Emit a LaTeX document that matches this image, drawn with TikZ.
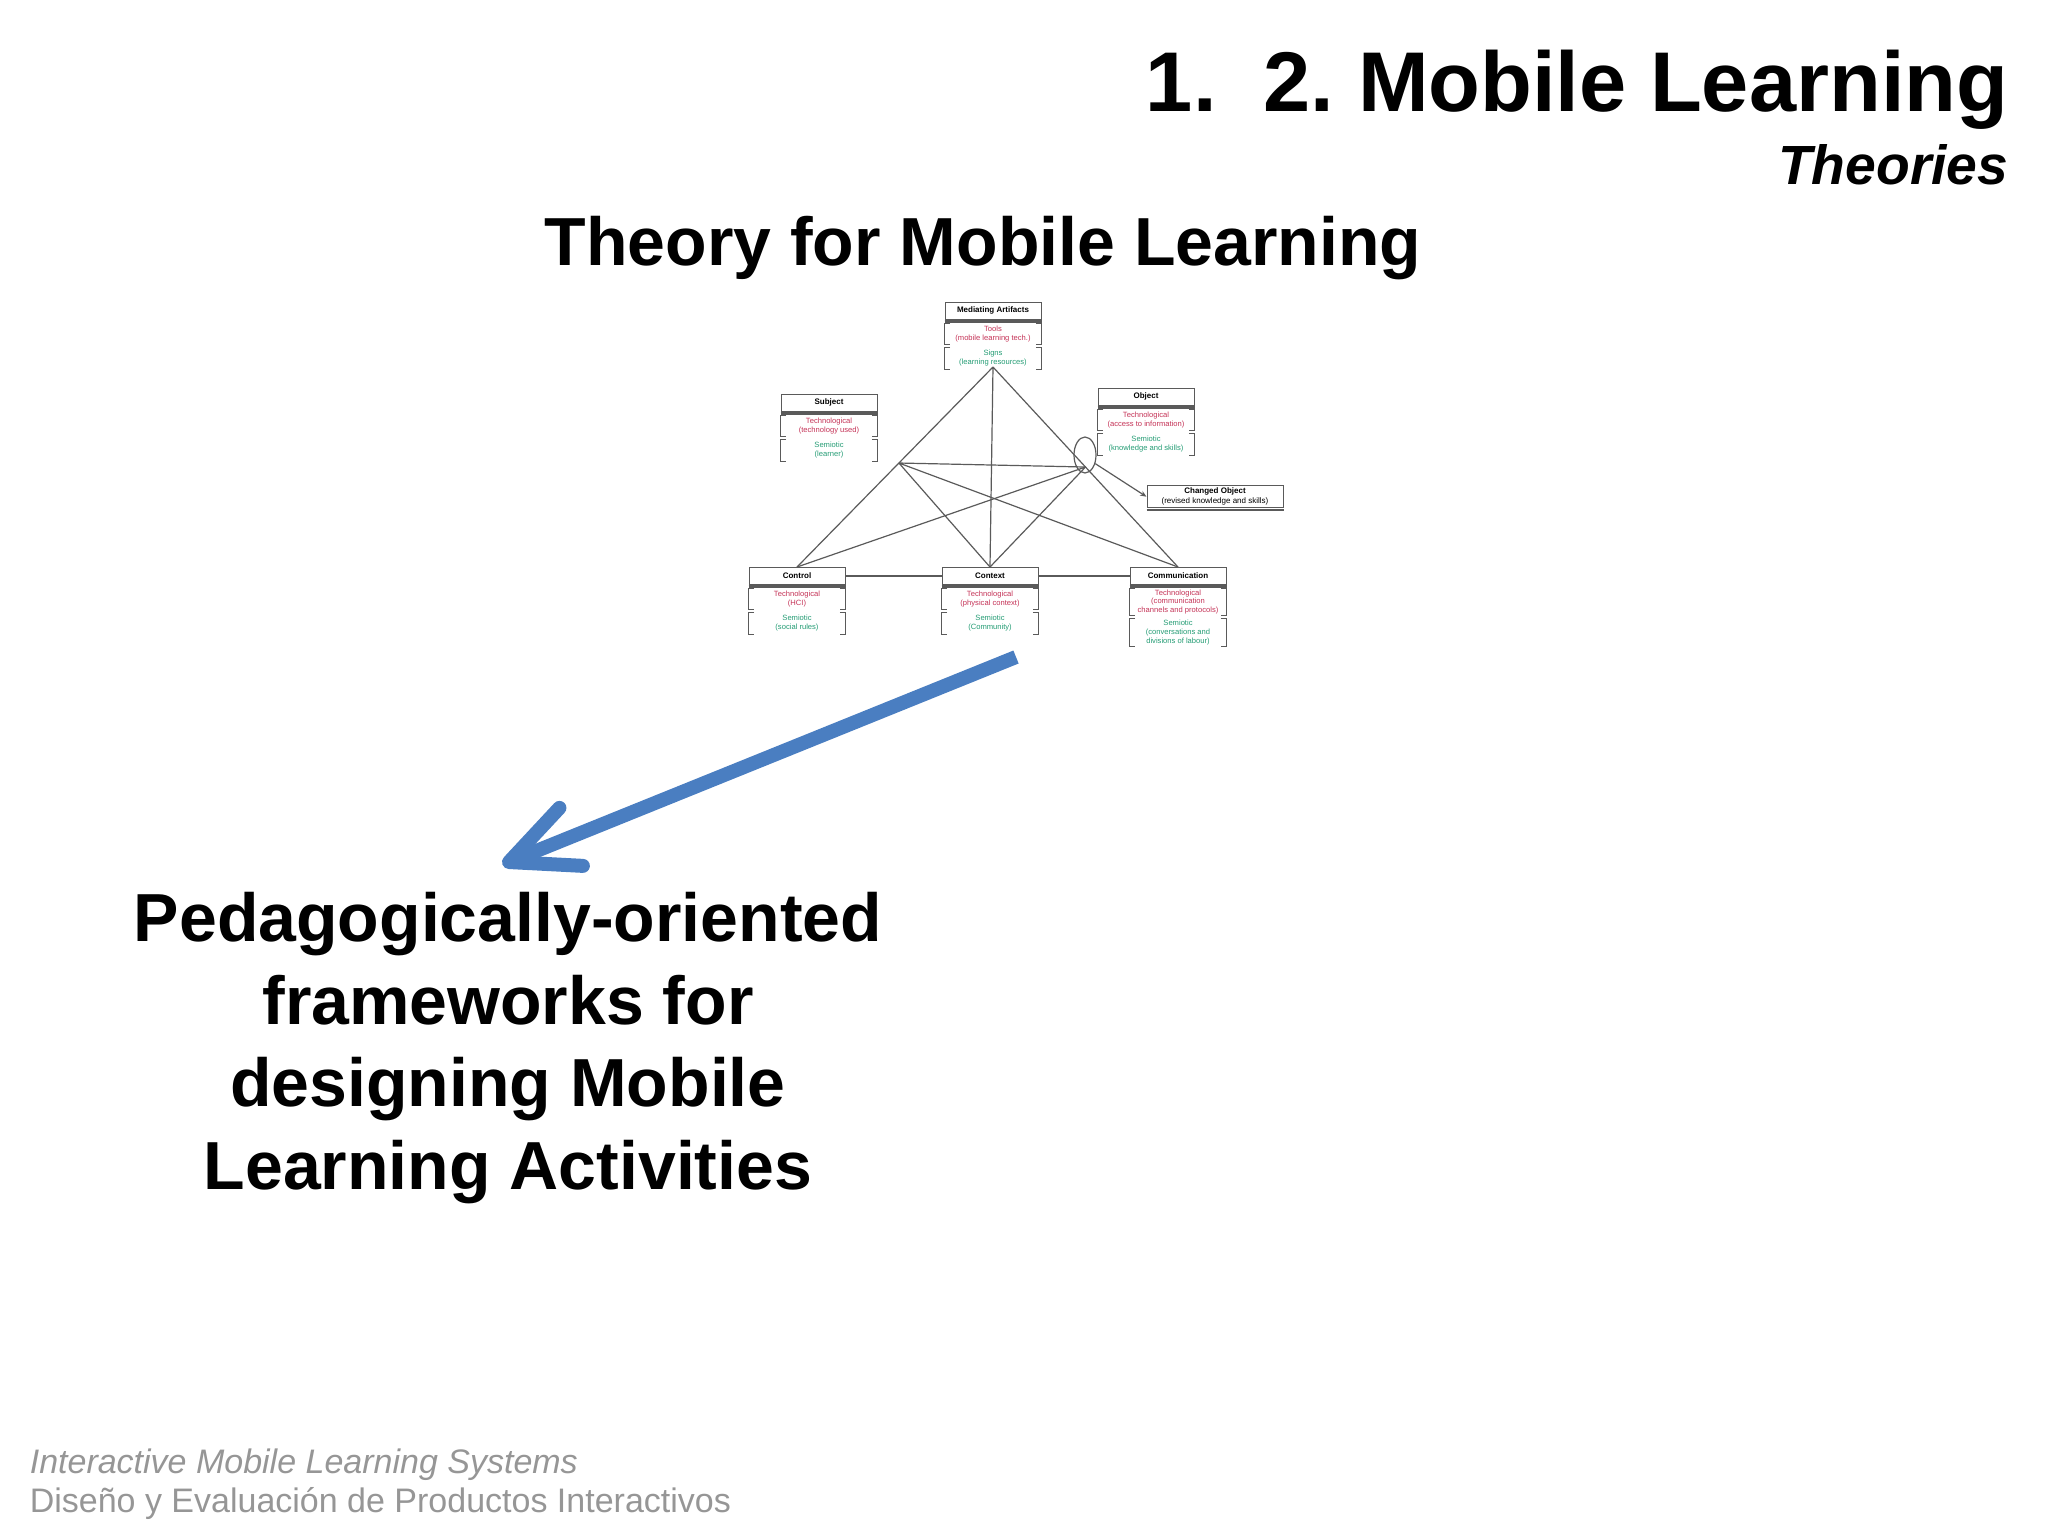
\documentclass[tikz,border=0pt]{standalone}
\usepackage{fontspec}
\setmainfont{Liberation Sans}
\usetikzlibrary{calc,positioning,arrows.meta,shapes.geometric}
\definecolor{arrowblue}{RGB}{74,126,193}
\definecolor{techred}{RGB}{196,50,86}
\definecolor{semgreen}{RGB}{36,156,116}
\definecolor{footgray}{RGB}{150,150,150}
\definecolor{linegray}{RGB}{90,90,90}
\frenchspacing
\def\brk(#1){\draw[brkline] ([xshift=1.5pt]#1.north west) -- (#1.north west) -- (#1.south west) -- ([xshift=1.5pt]#1.south west) ([xshift=-1.5pt]#1.north east) -- (#1.north east) -- (#1.south east) -- ([xshift=-1.5pt]#1.south east);}
\def\mlbox(#1)(#2)#3#4#5{%
  \node[hdr] (#1) at (#2) {#3};
  \draw[line width=0.55pt, linegray] ([yshift=-0.4pt]#1.south west) -- ([yshift=-0.4pt]#1.south east);
  \node[tech, below=0.8pt of #1] (#1-tech) {#4};
  \node[sem, below=0.7pt of #1-tech] (#1-sem) {#5};
  \brk(#1-tech) \brk(#1-sem)}

\begin{document}
\begin{tikzpicture}[x=0.25pt, y=-0.25pt,
    hdr/.style={draw=linegray, line width=0.25pt, fill=white, anchor=north, minimum width=24pt,
      minimum height=4.2pt, inner sep=0.3pt, font=\fontsize{2}{2.3}\selectfont\bfseries},
    tech/.style={minimum width=24pt, minimum height=5pt, inner sep=0.2pt, align=center,
      text=techred, font=\fontsize{1.9}{2.2}\selectfont},
    sem/.style={tech, text=semgreen},
    brkline/.style={draw=linegray, line width=0.25pt},
    edge/.style={draw=linegray, line width=0.3pt},
    arrowline/.style={draw=arrowblue, line width=3.5pt}]
  \useasboundingbox (0,0) rectangle (2048,1536);
  %%%%% START %%%%%
  % titles
  \node[anchor=base east, inner sep=0, font=\fontsize{21.2}{25}\selectfont\bfseries] (title) at (2009,111) {1.\ \ 2. Mobile Learning};
  \node[anchor=base east, inner sep=0, font=\fontsize{13.8}{16}\selectfont\bfseries\itshape] (theories) at (2009,184) {Theories};
  \node[anchor=base, inner sep=0, font=\fontsize{17}{20}\selectfont\bfseries] (theory) at (983,265) {Theory for Mobile Learning};

  % task model
  \mlbox(med)(993,302){Mediating Artifacts}{Tools\\(mobile learning tech.)}{Signs\\(learning resources)}
  \mlbox(subj)(829,394){Subject}{Technological\\(technology used)}{Semiotic\\(learner)}
  \mlbox(obj)(1146,388){Object}{Technological\\(access to information)}{Semiotic\\(knowledge and skills)}
  \mlbox(ctl)(797,567){Control}{Technological\\(HCI)}{Semiotic\\(social rules)}
  \mlbox(ctx)(990,567){Context}{Technological\\(physical context)}{Semiotic\\(Community)}
  \mlbox(com)(1178,567){Communication}{Technological\\(communication\\channels and protocols)}{Semiotic\\(conversations and\\divisions of labour)}
  \node[hdr, minimum width=34pt, minimum height=5.6pt, align=center, font=\fontsize{2}{2.5}\selectfont] (chg) at (1215,485) {\textbf{Changed Object}\\(revised knowledge and skills)};
  \draw[line width=0.55pt, linegray] ([yshift=-0.4pt]chg.south west) -- ([yshift=-0.4pt]chg.south east);

  \coordinate (apex) at (993,367);
  \coordinate (lvert) at ($(apex)!0.48!(ctl.north)$);
  \coordinate (rvert) at ($(apex)!0.5!(com.north)$);
  \draw[edge] (apex) -- (ctl.north) (apex) -- (ctx.north) (apex) -- (com.north);
  \draw[edge] (lvert) -- (rvert) (lvert) -- (ctx.north) (lvert) -- (com.north);
  \draw[edge] (rvert) -- (ctl.north) (rvert) -- (ctx.north);
  \draw[edge] (ctl.east) -- (ctx.west) (ctx.east) -- (com.west);
  \node[draw=linegray, line width=0.3pt, ellipse, minimum width=5.5pt, minimum height=9pt, inner sep=0] (ring) at (1085,455) {};
  \draw[edge, -{Stealth[length=1.6pt, width=1.3pt]}] (ring.-40) -- (chg.west);

  % arrow to the frameworks
  \coordinate (arrstart) at (1016,657);
  \coordinate (arrtip) at (509,862);
  \draw[arrowline, shorten >=2pt] (arrstart) -- (arrtip);
  \draw[arrowline, line cap=round, line join=round] ($(arrtip)!18.5pt!25:(arrstart)$) -- (arrtip) -- ($(arrtip)!18.5pt!-25:(arrstart)$);

  \node[anchor=base, inner sep=0, align=center, font=\fontsize{17}{20.6}\selectfont\bfseries] (frameworks) at (508,1189) {Pedagogically-oriented\\frameworks for\\designing Mobile\\Learning Activities};

  % footer
  \node[anchor=base west, inner sep=0, text=footgray, font=\fontsize{8.5}{10}\selectfont\itshape] (course) at (29,1473) {Interactive Mobile Learning Systems};
  \node[anchor=base west, inner sep=0, text=footgray, font=\fontsize{8.5}{10}\selectfont] (subject) at (29,1512) {Diseño y Evaluación de Productos Interactivos};
  %%%%% END %%%%%
\end{tikzpicture}
\end{document}
